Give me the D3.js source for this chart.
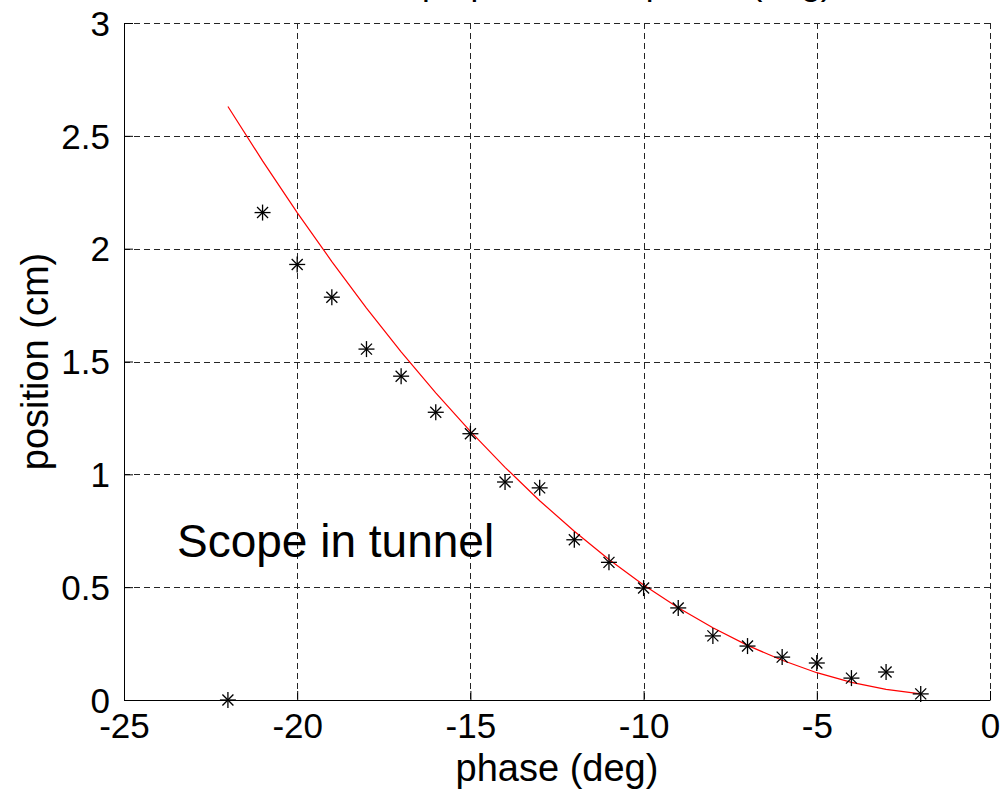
<!DOCTYPE html>
<html>
<head>
<meta charset="utf-8">
<script src="https://cdn.jsdelivr.net/npm/d3@7"></script>
<style>
html,body{margin:0;padding:0;background:#fff;}
svg{display:block;font-family:Arial,"Liberation Sans",sans-serif;}
</style>
</head>
<body>
<svg id="chart" width="1003" height="795"></svg>
<script>
// ---- data ----
const phase = [-22,-21,-20,-19,-18,-17,-16,-15,-14,-13,-12,-11,-10,-9,-8,-7,-6,-5,-4,-3,-2];
const position = [0.0,2.16,1.93,1.785,1.555,1.435,1.275,1.18,0.966,0.94,0.71,0.61,0.496,0.408,0.284,0.239,0.19,0.164,0.097,0.124,0.027];
const fitPhase = [-22,-21,-20,-19,-18,-17,-16,-15,-14,-13,-12,-11,-10,-9,-8,-7,-6,-5,-4,-3,-2];
const fitPosition = [2.63,2.389,2.16,1.943,1.737,1.543,1.361,1.19,1.031,0.883,0.748,0.623,0.51,0.409,0.32,0.242,0.176,0.121,0.078,0.047,0.027];
const xTicks = [-25,-20,-15,-10,-5,0];
const xTickLabels = ["-25","-20","-15","-10","-5","0"];
const yTicks = [0,0.5,1,1.5,2,2.5,3];
const yTickLabels = ["0","0.5","1","1.5","2","2.5","3"];
const titleText = "Scope position vs phase (deg)";
const xLabel = "phase (deg)";
const yLabel = "position (cm)";
const annotation = "Scope in tunnel";

// ---- layout ----
const L = 124, R = 990, T = 23, B = 700;
const svg = d3.select("#chart");
const x = d3.scaleLinear().domain([-25,0]).range([L,R]);
const y = d3.scaleLinear().domain([0,3]).range([B,T]);

// grid
const grid = svg.append("g").attr("stroke","#000").attr("stroke-width",1)
  .attr("stroke-dasharray","6,4").attr("shape-rendering","crispEdges").attr("opacity",0.85);
grid.selectAll("line.gx").data(xTicks.slice(1)).enter().append("line")
  .attr("x1",d=>Math.round(x(d))+0.5).attr("x2",d=>Math.round(x(d))+0.5)
  .attr("y1",T).attr("y2",B);
grid.selectAll("line.gy").data(yTicks.slice(1)).enter().append("line")
  .attr("y1",d=>Math.round(y(d))+0.5).attr("y2",d=>Math.round(y(d))+0.5)
  .attr("x1",L).attr("x2",R);

// axes (left & bottom solid, inward ticks)
const xAxis = d3.axisBottom(x).tickValues(xTicks).tickFormat((d,i)=>xTickLabels[i]).tickSizeInner(-9).tickSizeOuter(0).tickPadding(14);
const yAxis = d3.axisLeft(y).tickValues(yTicks).tickFormat((d,i)=>yTickLabels[i]).tickSizeInner(-9).tickSizeOuter(0).tickPadding(14);
const gx = svg.append("g").attr("transform",`translate(0,${B})`).call(xAxis);
const gy = svg.append("g").attr("transform",`translate(${L},0)`).call(yAxis);
[gx,gy].forEach(g=>{
  g.select(".domain").attr("stroke","#000").attr("stroke-width",1);
  g.selectAll(".tick line").attr("stroke","#000");
  g.selectAll(".tick text").attr("fill","#000").attr("font-size","35px")
   .attr("font-family","Arial, 'Liberation Sans', sans-serif");
});
gx.selectAll(".tick text").attr("dy","0.71em").attr("y",13);
gy.selectAll(".tick text").attr("dy","0.35em");

// fit line
const line = d3.line().x(d=>x(d[0])).y(d=>y(d[1]));
svg.append("path").datum(fitPhase.map((p,i)=>[p,fitPosition[i]]))
  .attr("d",line).attr("fill","none").attr("stroke","#ff0000").attr("stroke-width",1.2);

// star markers
const stars = svg.append("g").attr("stroke","#000").attr("stroke-width",1.3);
const pts = phase.map((p,i)=>[p,position[i]]);
const s = 8, dd = 5.5;
const mk = stars.selectAll("g").data(pts).enter().append("g")
  .attr("transform",d=>`translate(${x(d[0])},${y(d[1])})`);
mk.append("line").attr("x1",-s).attr("x2",s).attr("y1",0).attr("y2",0);
mk.append("line").attr("x1",0).attr("x2",0).attr("y1",-s).attr("y2",s);
mk.append("line").attr("x1",-dd).attr("x2",dd).attr("y1",-dd).attr("y2",dd);
mk.append("line").attr("x1",-dd).attr("x2",dd).attr("y1",dd).attr("y2",-dd);

// annotation
svg.append("text").attr("x",x(-23.47)).attr("y",557).attr("font-size","46px")
  .attr("fill","#000").text(annotation);

// axis labels
svg.append("text").attr("x",(L+R)/2).attr("y",781).attr("text-anchor","middle")
  .attr("font-size","38px").attr("fill","#000").text(xLabel);
svg.append("text").attr("transform",`translate(48,${(T+B)/2}) rotate(-90)`)
  .attr("text-anchor","middle").attr("font-size","38px").attr("fill","#000").text(yLabel);

// title (mostly cut off above the frame)
svg.append("text").attr("x",(L+R)/2+40).attr("y",-5).attr("text-anchor","middle")
  .attr("font-size","35px").attr("fill","#000").text(titleText);
</script>
</body>
</html>
